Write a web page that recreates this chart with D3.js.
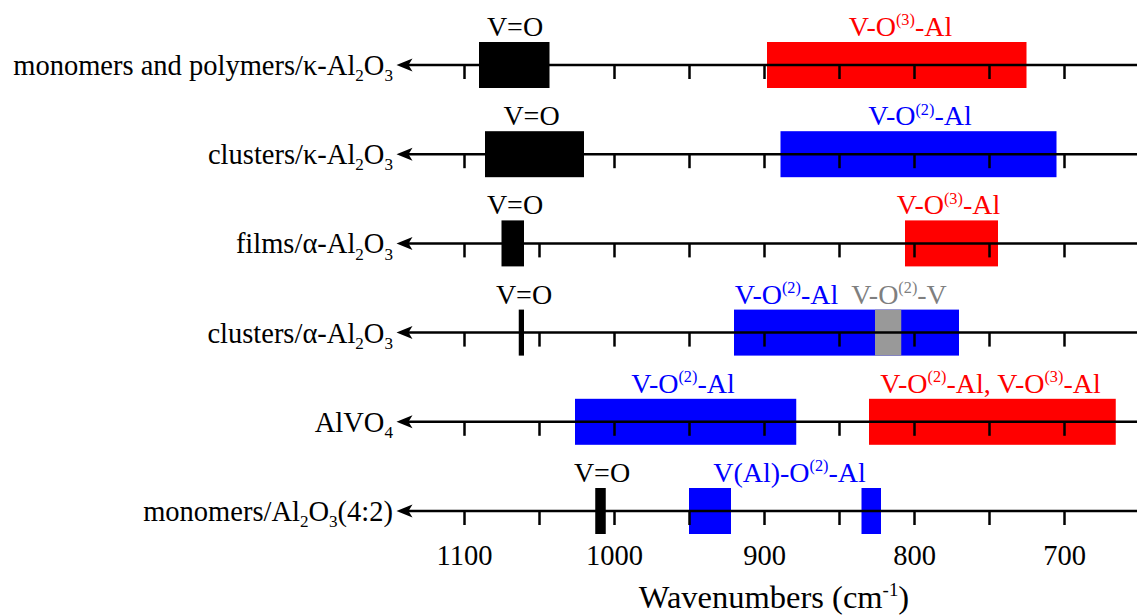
<!DOCTYPE html>
<html>
<head>
<meta charset="utf-8">
<script src="https://cdn.jsdelivr.net/npm/d3@7"></script>
<style>
  html, body { margin: 0; padding: 0; background: #fff; }
  svg { display: block; font-family: "Liberation Serif", "Times New Roman", serif; }
</style>
</head>
<body>
<div id="chart"></div>
<script>
// DATA //

// sample rows, top to bottom ("_{..}" = subscript, "^{..}" = superscript)
const categories = [
	'monomers and polymers/κ-Al_{2}O_{3}',
	'clusters/κ-Al_{2}O_{3}',
	'films/α-Al_{2}O_{3}',
	'clusters/α-Al_{2}O_{3}',
	'AlVO_{4}',
	'monomers/Al_{2}O_{3}(4:2)'
];

// assignment types (mapped to colours below)
const types = [ 'V=O', 'V-O(2)-Al', 'V-O(3)-Al', 'V-O(2)-V' ];

// bands: [ row, high wavenumber, low wavenumber, type ]
const bands = [
	[ 0, 1090, 1043, 'V=O' ],
	[ 0, 898, 725, 'V-O(3)-Al' ],
	[ 1, 1086, 1020, 'V=O' ],
	[ 1, 889, 705, 'V-O(2)-Al' ],
	[ 2, 1075, 1060, 'V=O' ],
	[ 2, 806, 744, 'V-O(3)-Al' ],
	[ 3, 920, 770, 'V-O(2)-Al' ],
	[ 3, 826, 808.5, 'V-O(2)-V' ],
	[ 3, 1063.5, 1060, 'V=O' ],
	[ 4, 1026, 878.5, 'V-O(2)-Al' ],
	[ 4, 830, 665.5, 'V-O(3)-Al' ],
	[ 5, 1012.5, 1005.5, 'V=O' ],
	[ 5, 950, 922, 'V-O(2)-Al' ],
	[ 5, 835, 822, 'V-O(2)-Al' ]
];

// band labels: [ row, centre wavenumber, text, type ]
const bandLabels = [
	[ 0, 1066, 'V=O', 'V=O' ],
	[ 0, 809, 'V-O^{(3)}-Al', 'V-O(3)-Al' ],
	[ 1, 1055, 'V=O', 'V=O' ],
	[ 1, 796, 'V-O^{(2)}-Al', 'V-O(2)-Al' ],
	[ 2, 1066, 'V=O', 'V=O' ],
	[ 2, 777, 'V-O^{(3)}-Al', 'V-O(3)-Al' ],
	[ 3, 1060, 'V=O', 'V=O' ],
	[ 3, 885, 'V-O^{(2)}-Al', 'V-O(2)-Al' ],
	[ 3, 810, 'V-O^{(2)}-V', 'V-O(2)-V' ],
	[ 4, 954, 'V-O^{(2)}-Al', 'V-O(2)-Al' ],
	[ 4, 749, 'V-O^{(2)}-Al, V-O^{(3)}-Al', 'V-O(3)-Al' ],
	[ 5, 1008, 'V=O', 'V=O' ],
	[ 5, 883, 'V(Al)-O^{(2)}-Al', 'V-O(2)-Al' ]
];

const tickValues = [ 1100, 1050, 1000, 950, 900, 850, 800, 750, 700 ];
const tickLabels = [ 1100, 1000, 900, 800, 700 ];
const axisTitle = 'Wavenumbers (cm^{-1})';


// SETUP //

const width = 1137;
const height = 615;
const fontSize = 28.5;
const bandFontSize = 28;
const titleFontSize = 32.5;

const x = d3.scaleLinear()
	.domain([ 1100, 700 ])
	.range([ 464, 1064 ]);

const y = d3.scalePoint()
	.domain( d3.range( categories.length ) )
	.range([ 65, 511 ]);

const color = d3.scaleOrdinal()
	.domain( types )
	.range([ '#000000', '#0000ff', '#ff0000', '#999999' ]);

const textColor = d3.scaleOrdinal()
	.domain( types )
	.range([ '#000000', '#0000ff', '#ff0000', '#7f7f7f' ]);

const svg = d3.select( '#chart' ).append( 'svg' )
	.attr( 'width', width )
	.attr( 'height', height );

svg.append( 'rect' )
	.attr( 'width', width )
	.attr( 'height', height )
	.attr( 'fill', '#fff' );


// FUNCTIONS //

// Write a string with _{sub} and ^{sup} markup into a text element.
function richText( sel, str, size ) {
	const parts = str.match( /[_^]\{[^}]*\}|[^_^]+/g );
	let shift = 0;
	parts.forEach( ( p ) => {
		let dy = 0;
		let fs = size;
		let txt = p;
		if ( p[0] === '_' ) {
			dy = 0.22 * size;
			fs = 0.6 * size;
			txt = p.slice( 2, -1 );
		} else if ( p[0] === '^' ) {
			dy = -0.38 * size;
			fs = 0.58 * size;
			txt = p.slice( 2, -1 );
		}
		sel.append( 'tspan' )
			.attr( 'dy', dy - shift )
			.attr( 'font-size', fs )
			.text( txt );
		shift = dy;
	});
}


// MAIN //

const rows = svg.selectAll( 'g.row' )
	.data( categories )
	.enter().append( 'g' )
	.attr( 'class', 'row' )
	.attr( 'transform', ( d, i ) => 'translate(0,' + y( i ) + ')' );

// bands
rows.each( function( d, i ) {
	d3.select( this ).selectAll( 'rect' )
		.data( bands.filter( b => b[0] === i ) )
		.enter().append( 'rect' )
		.attr( 'x', b => x( b[1] ) )
		.attr( 'width', b => x( b[2] ) - x( b[1] ) )
		.attr( 'y', -23 )
		.attr( 'height', 46 )
		.attr( 'fill', b => color( b[3] ) );
});

// axis line with arrow head at the high-wavenumber end
const tip = x( 1145 );
rows.append( 'line' )
	.attr( 'x1', tip + 6 )
	.attr( 'x2', width )
	.attr( 'y1', 0 )
	.attr( 'y2', 0 )
	.attr( 'stroke', '#000' )
	.attr( 'stroke-width', 2.5 );

rows.append( 'path' )
	.attr( 'd', 'M' + tip + ',0L' + ( tip + 16 ) + ',-6.5L' + ( tip + 12 ) + ',0L' + ( tip + 16 ) + ',6.5Z' )
	.attr( 'fill', '#000' );

// ticks
rows.each( function( d, i ) {
	const last = i === categories.length - 1;
	const axis = d3.axisBottom( x )
		.tickValues( tickValues )
		.tickSizeInner( 14 )
		.tickSizeOuter( 0 )
		.tickPadding( 20 )
		.tickFormat( v => ( last && tickLabels.indexOf( v ) >= 0 ) ? v : '' );
	const g = d3.select( this ).append( 'g' ).call( axis )
		.attr( 'font-family', null )
		.attr( 'font-size', fontSize );
	g.select( '.domain' ).remove();
	g.selectAll( '.tick line' ).attr( 'stroke-width', 2.5 );
});

// row labels
rows.append( 'text' )
	.attr( 'x', 393 )
	.attr( 'y', 10 )
	.attr( 'text-anchor', 'end' )
	.attr( 'font-size', fontSize )
	.each( function( d ) { richText( d3.select( this ), d, fontSize ); } );

// band labels
rows.each( function( d, i ) {
	d3.select( this ).selectAll( 'text.band' )
		.data( bandLabels.filter( b => b[0] === i ) )
		.enter().append( 'text' )
		.attr( 'class', 'band' )
		.attr( 'x', b => x( b[1] ) )
		.attr( 'y', -29 )
		.attr( 'text-anchor', 'middle' )
		.attr( 'font-size', bandFontSize )
		.attr( 'fill', b => textColor( b[3] ) )
		.each( function( b ) { richText( d3.select( this ), b[2], bandFontSize ); } );
});

// axis title
svg.append( 'text' )
	.attr( 'x', 774 )
	.attr( 'y', 608 )
	.attr( 'text-anchor', 'middle' )
	.attr( 'font-size', titleFontSize )
	.each( function() { richText( d3.select( this ), axisTitle, titleFontSize ); } );
</script>
</body>
</html>
